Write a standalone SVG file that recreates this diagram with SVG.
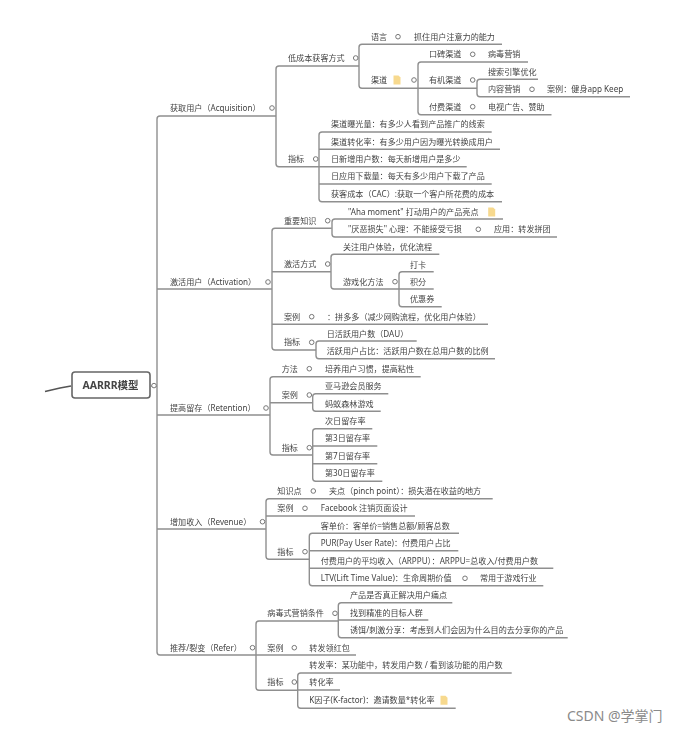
<svg xmlns="http://www.w3.org/2000/svg" width="681" height="732" viewBox="0 0 681 732">
<style>
text{font-family:"Noto Sans","Noto Sans CJK SC",sans-serif;font-size:8.1px;fill:#444}
.c{fill:#fff;stroke:#777;stroke-width:1}
.l{fill:none;stroke:#8f8f8f;stroke-width:1.4}
.r{fill:#fff;stroke:#666;stroke-width:1.6}
.rt{font-size:10.500px;font-weight:bold;fill:#444;text-anchor:middle}
.f{fill:#f7d98e}
.wm{font-size:14px;fill:#8a8a8a}
</style>
<defs>
<filter id="b" x="0" y="0" width="681" height="732" filterUnits="userSpaceOnUse"><feGaussianBlur stdDeviation="0.7"/></filter>
<path id="file" class="f" d="M-3.500-4.500H1.500L3.500-2.500V4.500H-3.500Z"/>
</defs>
<rect width="681" height="732" fill="#fff"/>
<g filter="url(#b)">
<g id="connectors" class="l">
<path d="M45 391.500L60 388L71 386" style="stroke:#555;stroke-width:1.600"/>
<path d="M151 386H157"/>
<path d="M276 116H160q-3 0-3 3V652q0 3 3 3H256"/>
<path d="M157 289H272M157 415H270M157 529H266"/>
<path d="M359 66H279q-3 0-3 3V163.700q0 3 3 3H319"/>
<path d="M502 44.300H362q-3 0-3 3V85.300q0 3 3 3H477"/>
<path d="M528 62H421q-3 0-3 3V111.700q0 3 3 3H551.500"/>
<path d="M538 79.300H480q-3 0-3 3V93.700q0 3 3 3H630"/>
<path d="M491.700 132H322q-3 0-3 3V198.700q0 3 3 3H502"/>
<path d="M319 149.300H500M319 166.700H466.700M319 184H491.700"/>
<path d="M331.700 228.300H275q-3 0-3 3V347q0 3 3 3H316"/>
<path d="M272 271.700H331M272 324.300H488"/>
<path d="M503 219H335q-3 0-3 3V234q0 3 3 3H557"/>
<path d="M439.300 254.300H334q-3 0-3 3V286q0 3 3 3H399"/>
<path d="M433.700 271.700H402q-3 0-3 3V303.700q0 3 3 3H441.700"/>
<path d="M399 289H433.700"/>
<path d="M416.700 341H319q-3 0-3 3V355.700q0 3 3 3H495"/>
<path d="M420.700 376.700H273q-3 0-3 3V452q0 3 3 3H312.700"/>
<path d="M270 402.700H312.700"/>
<path d="M388.300 393.700H315.700q-3 0-3 3V408.300q0 3 3 3H380.700"/>
<path d="M372.300 428.700H315.700q-3 0-3 3V478.300q0 3 3 3H382.300"/>
<path d="M312.700 446H377.300M312.700 463.700H377.300"/>
<path d="M492.700 498.700H269q-3 0-3 3V556.300q0 3 3 3H309.300"/>
<path d="M266 516H415"/>
<path d="M459 533.300H312.300q-3 0-3 3V582.700q0 3 3 3H543.300"/>
<path d="M309.300 550.700H458.300M309.300 568.300H553.300"/>
<path d="M338.300 621H259q-3 0-3 3V687.300q0 3 3 3H297.700"/>
<path d="M256 655H356"/>
<path d="M452.300 602.700H341.300q-3 0-3 3V634.700q0 3 3 3H567.700"/>
<path d="M338.300 620H428.300"/>
<path d="M511.700 673H300.700q-3 0-3 3V705.300q0 3 3 3H455.700"/>
<path d="M297.700 690H340"/>
</g>
<g id="root"><rect class="r" x="72" y="372" width="78" height="26" rx="3"/><text class="rt" x="110.500" y="389">AARRR模型</text><circle class="c" cx="154" cy="385.600" r="2.300"/></g>

<g id="acq"><text x="170" y="111">获取用户（Acquisition）</text><circle class="c" cx="272" cy="108" r="2.300"/></g>
<g id="acq1"><text x="288" y="61">低成本获客方式</text><circle class="c" cx="355.700" cy="58" r="2.300"/></g>
<g id="acq11"><text x="371" y="39.700">语言</text><circle class="c" cx="398" cy="36.700" r="2.300"/><text x="414" y="39.700">抓住用户注意力的能力</text></g>
<g id="acq12"><text x="371" y="83">渠道</text><use href="#file" x="397" y="80"/><circle class="c" cx="414" cy="80" r="2.300"/></g>
<g id="acq121"><text x="429" y="57.300">口碑渠道</text><circle class="c" cx="472.700" cy="54.300" r="2.300"/><text x="488" y="57.300">病毒营销</text></g>
<g id="acq122"><text x="429" y="83">有机渠道</text><circle class="c" cx="472.700" cy="80" r="2.300"/></g>
<g id="acq1221"><text x="488" y="74.700">搜索引擎优化</text></g>
<g id="acq1222"><text x="488" y="92.300">内容营销</text><circle class="c" cx="532" cy="89.300" r="2.300"/><text x="547" y="92.300">案例：健身app Keep</text></g>
<g id="acq123"><text x="429" y="109.700">付费渠道</text><circle class="c" cx="472.700" cy="106.700" r="2.300"/><text x="488" y="109.700">电视广告、赞助</text></g>
<g id="acq2"><text x="288" y="162">指标</text><circle class="c" cx="315.700" cy="159" r="2.300"/></g>
<g id="acq21"><text x="331" y="127.300">渠道曝光量：有多少人看到产品推广的线索</text></g>
<g id="acq22"><text x="331" y="144.700">渠道转化率：有多少用户因为曝光转换成用户</text></g>
<g id="acq23"><text x="331" y="161.700">日新增用户数：每天新增用户是多少</text></g>
<g id="acq24"><text x="331" y="179">日应用下载量：每天有多少用户下载了产品</text></g>
<g id="acq25"><text x="331" y="196.700">获客成本（CAC）:获取一个客户所花费的成本</text></g>

<g id="act"><text x="170" y="285">激活用户（Activation）</text><circle class="c" cx="268" cy="282" r="2.300"/></g>
<g id="act1"><text x="284" y="223.700">重要知识</text><circle class="c" cx="327.700" cy="220.700" r="2.300"/></g>
<g id="act11"><text x="348" y="214.700">"Aha moment" 打动用户的产品亮点</text><use href="#file" x="491.700" y="212"/></g>
<g id="act12"><text x="348" y="232.300">"厌恶损失" 心理：不能接受亏损</text><circle class="c" cx="478.300" cy="229.300" r="2.300"/><text x="494" y="232.300">应用：转发拼团</text></g>
<g id="act2"><text x="284" y="267">激活方式</text><circle class="c" cx="327.700" cy="264" r="2.300"/></g>
<g id="act21"><text x="343" y="250">关注用户体验，优化流程</text></g>
<g id="act22"><text x="343" y="284.700">游戏化方法</text><circle class="c" cx="395" cy="281.700" r="2.300"/></g>
<g id="act221"><text x="410" y="267.700">打卡</text></g>
<g id="act222"><text x="410" y="284.700">积分</text></g>
<g id="act223"><text x="410" y="302.300">优惠券</text></g>
<g id="act3"><text x="284" y="319.700">案例</text><circle class="c" cx="311.700" cy="316.700" r="2.300"/><text x="327" y="319.700">：拼多多（减少网购流程，优化用户体验）</text></g>
<g id="act4"><text x="284" y="345.300">指标</text><circle class="c" cx="311.700" cy="342.300" r="2.300"/></g>
<g id="act41"><text x="326.700" y="337.300">日活跃用户数（DAU）</text></g>
<g id="act42"><text x="326.700" y="354.300">活跃用户占比：活跃用户数在总用户数的比例</text></g>

<g id="ret"><text x="170" y="411">提高留存（Retention）</text><circle class="c" cx="266" cy="408" r="2.300"/></g>
<g id="ret1"><text x="281.700" y="371.700">方法</text><circle class="c" cx="309.300" cy="368.700" r="2.300"/><text x="325" y="371.700">培养用户习惯，提高粘性</text></g>
<g id="ret2"><text x="281.700" y="398">案例</text><circle class="c" cx="309.300" cy="395" r="2.300"/></g>
<g id="ret21"><text x="325" y="389.300">亚马逊会员服务</text></g>
<g id="ret22"><text x="325" y="406.700">蚂蚁森林游戏</text></g>
<g id="ret3"><text x="281.700" y="450.700">指标</text><circle class="c" cx="309.300" cy="447.700" r="2.300"/></g>
<g id="ret31"><text x="325" y="424">次日留存率</text></g>
<g id="ret32"><text x="325" y="441.300">第3日留存率</text></g>
<g id="ret33"><text x="325" y="459">第7日留存率</text></g>
<g id="ret34"><text x="325" y="476.300">第30日留存率</text></g>

<g id="rev"><text x="170" y="524.700">增加收入（Revenue）</text><circle class="c" cx="262.500" cy="521.700" r="2.300"/></g>
<g id="rev1"><text x="277.300" y="494">知识点</text><circle class="c" cx="313.300" cy="491" r="2.300"/><text x="329" y="494">夹点（pinch point）：损失潜在收益的地方</text></g>
<g id="rev2"><text x="277.300" y="511.300">案例</text><circle class="c" cx="305" cy="508.300" r="2.300"/><text x="320.700" y="511.300">Facebook 注销页面设计</text></g>
<g id="rev3"><text x="277.300" y="554.700">指标</text><circle class="c" cx="305" cy="551.700" r="2.300"/></g>
<g id="rev31"><text x="320.700" y="528.700">客单价：客单价=销售总额/顾客总数</text></g>
<g id="rev32"><text x="320.700" y="546.300">PUR(Pay User Rate)：付费用户占比</text></g>
<g id="rev33"><text x="320.700" y="563.700">付费用户的平均收入（ARPPU）：ARPPU=总收入/付费用户数</text></g>
<g id="rev34"><text x="320.700" y="581.300">LTV(Lift Time Value)：生命周期价值</text><circle class="c" cx="465" cy="578.300" r="2.300"/><text x="480" y="581.300">常用于游戏行业</text></g>

<g id="ref"><text x="170" y="650.700">推荐/裂变（Refer）</text><circle class="c" cx="252.500" cy="647.700" r="2.300"/></g>
<g id="ref1"><text x="267.300" y="616.300">病毒式营销条件</text><circle class="c" cx="335" cy="613.300" r="2.300"/></g>
<g id="ref11"><text x="350" y="598.300">产品是否真正解决用户痛点</text></g>
<g id="ref12"><text x="350" y="616">找到精准的目标人群</text></g>
<g id="ref13"><text x="350" y="633.300">诱饵/刺激分享：考虑到人们会因为什么目的去分享你的产品</text></g>
<g id="ref2"><text x="267.300" y="650.700">案例</text><circle class="c" cx="294.300" cy="647.700" r="2.300"/><text x="309.300" y="650.700">转发领红包</text></g>
<g id="ref3"><text x="267.300" y="685">指标</text><circle class="c" cx="294.300" cy="682" r="2.300"/></g>
<g id="ref31"><text x="309.300" y="668">转发率：某功能中，转发用户数 / 看到该功能的用户数</text></g>
<g id="ref32"><text x="309.300" y="685.300">转化率</text></g>
<g id="ref33"><text x="309.300" y="703.300">K因子(K-factor)：邀请数量*转化率</text><use href="#file" x="444" y="700.300"/></g>
</g>
<text class="wm" x="567" y="720.500">CSDN @学掌门</text>
</svg>
